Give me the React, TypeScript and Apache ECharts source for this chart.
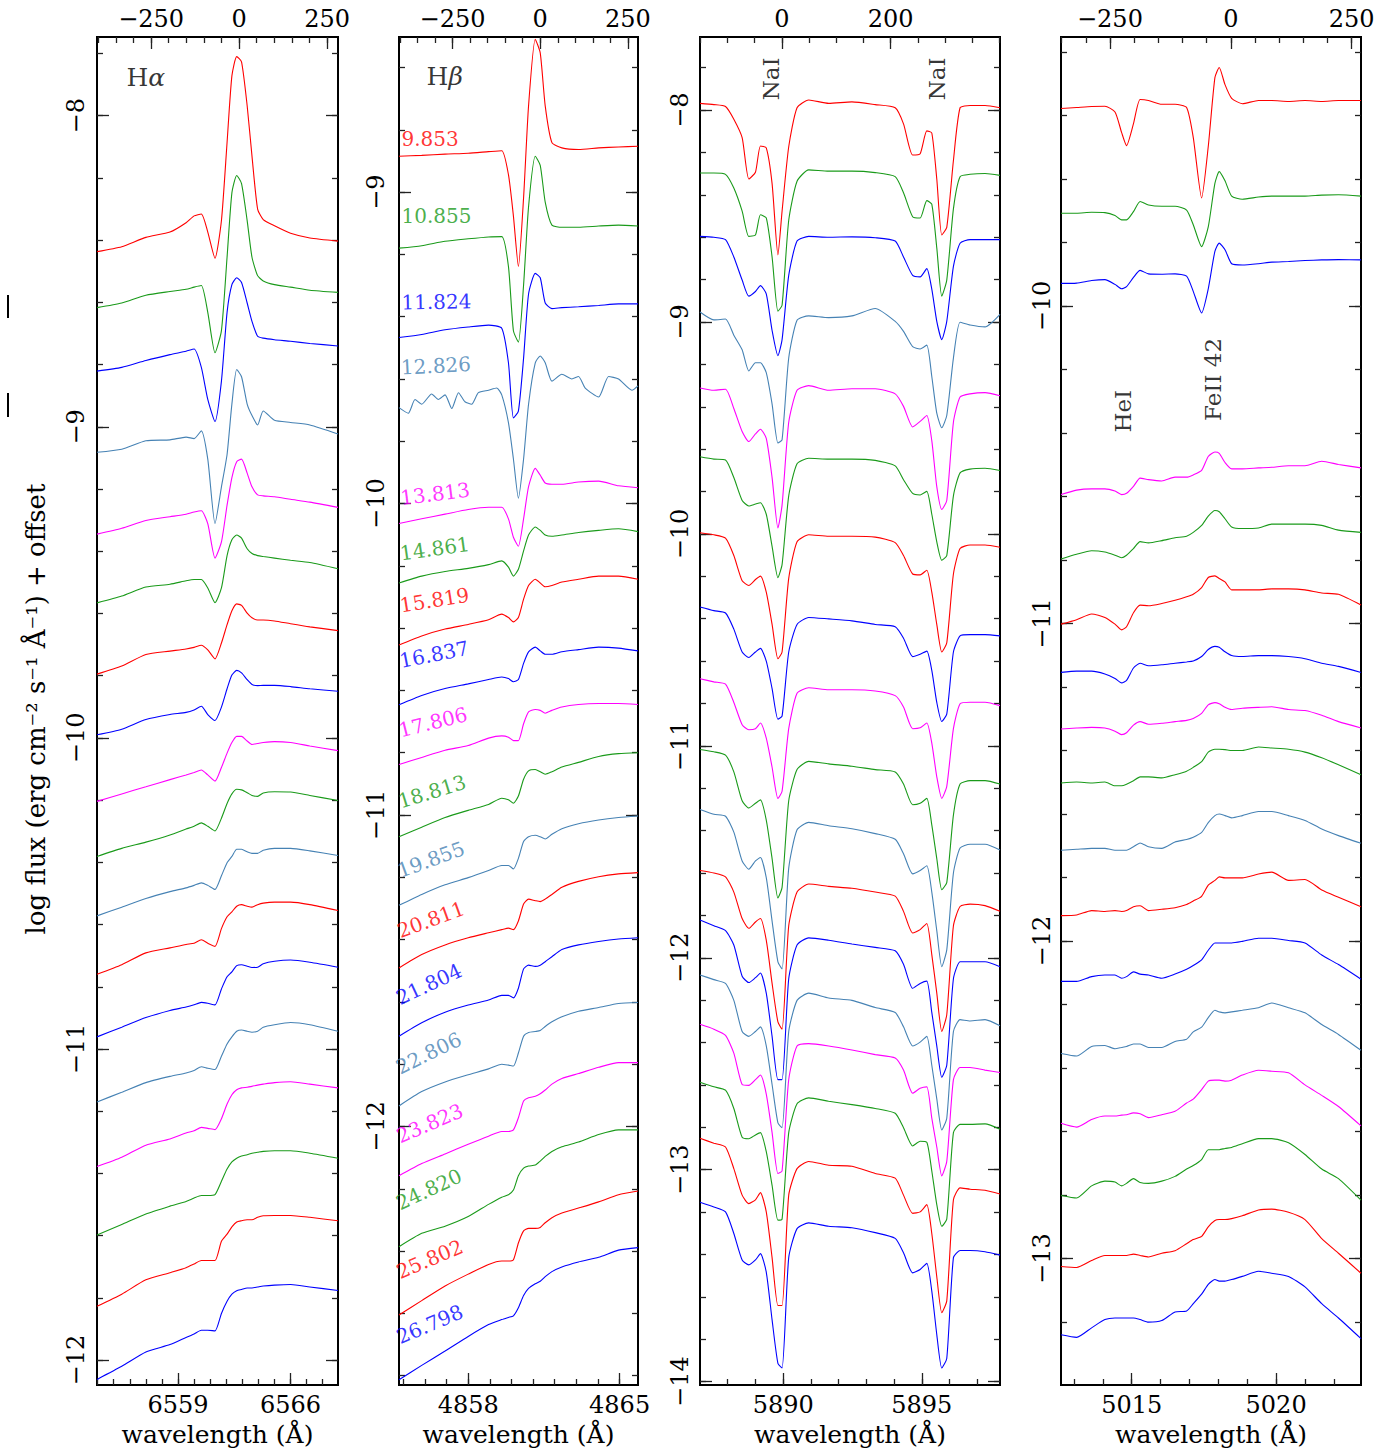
import React, { useEffect, useRef } from "react";
import * as echarts from "echarts";

// ---------- colours / epochs ----------
const COLOR = { red: "#ff0000", green: "#1a9a1a", blue: "#0000ff", steel: "#4682b4", magenta: "#ff00ff" };
const EPOCH_COLORS = ["red", "green", "blue", "steel", "magenta", "green", "red", "blue", "magenta", "green", "steel", "red", "blue", "steel", "magenta", "green", "red", "blue"];
const FE_COLORS = ["red", "green", "blue", "magenta", "green", "red", "blue", "magenta", "green", "steel", "red", "blue", "steel", "magenta", "green", "red", "blue"];
const EPOCHS = ["9.853", "10.855", "11.824", "12.826", "13.813", "14.861", "15.819", "16.837", "17.806", "18.813", "19.855", "20.811", "21.804", "22.806", "23.823", "24.820", "25.802", "26.798"];
const EPOCH_LABEL_Y = [-8.863, -9.112, -9.388, -9.597, -10.016, -10.194, -10.361, -10.539, -10.762, -10.99, -11.213, -11.406, -11.621, -11.844, -12.065, -12.28, -12.501, -12.71];
const EPOCH_LABEL_ANGLE = [0, 0, 1, 3, 7, 8, 9, 11, 14, 17, 20, 20, 25, 26, 23, 25, 23, 23];

// ---------- H alpha ----------
const HA_WAVE = [6553.96, 6555.5, 6557.0, 6558.5, 6559.5, 6560.0, 6560.45, 6560.85, 6561.3, 6561.7, 6562.05, 6562.35, 6562.65, 6562.95, 6563.3, 6563.6, 6563.95, 6564.3, 6565.0, 6566.0, 6567.2, 6568.95];
const HA_FLUX = [
  [-8.437, -8.421, -8.391, -8.374, -8.344, -8.322, -8.316, -8.374, -8.458, -8.337, -8.086, -7.872, -7.81, -7.827, -7.968, -8.13, -8.3, -8.334, -8.354, -8.378, -8.393, -8.403],
  [-8.617, -8.602, -8.577, -8.565, -8.558, -8.551, -8.546, -8.632, -8.762, -8.691, -8.455, -8.248, -8.192, -8.218, -8.337, -8.455, -8.514, -8.531, -8.543, -8.551, -8.561, -8.568],
  [-8.821, -8.809, -8.787, -8.768, -8.757, -8.75, -8.809, -8.912, -8.983, -8.853, -8.632, -8.543, -8.521, -8.536, -8.602, -8.661, -8.709, -8.715, -8.72, -8.725, -8.732, -8.74],
  [-9.082, -9.072, -9.045, -9.042, -9.033, -9.038, -9.013, -9.104, -9.311, -9.193, -9.089, -8.927, -8.816, -8.839, -8.927, -8.964, -8.994, -8.949, -8.979, -8.986, -8.994, -9.023],
  [-9.345, -9.326, -9.301, -9.289, -9.281, -9.274, -9.27, -9.311, -9.422, -9.37, -9.252, -9.163, -9.112, -9.104, -9.149, -9.193, -9.219, -9.222, -9.225, -9.233, -9.242, -9.259],
  [-9.566, -9.544, -9.515, -9.506, -9.495, -9.491, -9.491, -9.518, -9.565, -9.518, -9.414, -9.363, -9.348, -9.358, -9.392, -9.407, -9.414, -9.417, -9.422, -9.429, -9.436, -9.456],
  [-9.795, -9.769, -9.732, -9.721, -9.714, -9.709, -9.702, -9.717, -9.746, -9.695, -9.636, -9.591, -9.569, -9.574, -9.599, -9.614, -9.621, -9.621, -9.624, -9.633, -9.643, -9.655],
  [-9.99, -9.972, -9.941, -9.925, -9.918, -9.91, -9.898, -9.925, -9.944, -9.901, -9.842, -9.798, -9.783, -9.791, -9.813, -9.828, -9.832, -9.831, -9.831, -9.835, -9.842, -9.85],
  [-10.204, -10.18, -10.157, -10.134, -10.119, -10.111, -10.103, -10.119, -10.139, -10.095, -10.049, -10.015, -9.995, -9.995, -10.01, -10.021, -10.018, -10.015, -10.012, -10.015, -10.026, -10.041],
  [-10.381, -10.355, -10.335, -10.312, -10.293, -10.284, -10.273, -10.284, -10.299, -10.258, -10.211, -10.18, -10.165, -10.167, -10.176, -10.185, -10.188, -10.177, -10.173, -10.174, -10.185, -10.201],
  [-10.572, -10.544, -10.516, -10.494, -10.482, -10.474, -10.466, -10.474, -10.487, -10.443, -10.401, -10.381, -10.358, -10.358, -10.366, -10.371, -10.371, -10.361, -10.355, -10.355, -10.363, -10.378],
  [-10.76, -10.729, -10.691, -10.675, -10.664, -10.66, -10.649, -10.66, -10.67, -10.613, -10.575, -10.559, -10.541, -10.536, -10.541, -10.544, -10.536, -10.531, -10.528, -10.528, -10.536, -10.555],
  [-10.961, -10.93, -10.899, -10.876, -10.865, -10.858, -10.85, -10.853, -10.858, -10.807, -10.768, -10.752, -10.732, -10.729, -10.734, -10.738, -10.737, -10.726, -10.718, -10.714, -10.721, -10.737],
  [-11.17, -11.139, -11.108, -11.088, -11.077, -11.069, -11.057, -11.062, -11.066, -11.023, -10.984, -10.961, -10.943, -10.939, -10.943, -10.946, -10.943, -10.93, -10.922, -10.915, -10.922, -10.943],
  [-11.378, -11.348, -11.309, -11.289, -11.27, -11.263, -11.252, -11.255, -11.259, -11.224, -11.177, -11.147, -11.131, -11.125, -11.123, -11.12, -11.116, -11.113, -11.108, -11.105, -11.113, -11.125],
  [-11.598, -11.564, -11.53, -11.505, -11.49, -11.479, -11.471, -11.471, -11.468, -11.425, -11.386, -11.363, -11.351, -11.344, -11.34, -11.335, -11.332, -11.329, -11.327, -11.327, -11.335, -11.351],
  [-11.827, -11.788, -11.742, -11.719, -11.703, -11.691, -11.68, -11.68, -11.68, -11.618, -11.595, -11.572, -11.556, -11.552, -11.549, -11.549, -11.541, -11.536, -11.535, -11.535, -11.541, -11.552],
  [-12.062, -12.02, -11.974, -11.95, -11.927, -11.916, -11.904, -11.904, -11.906, -11.85, -11.811, -11.788, -11.777, -11.773, -11.768, -11.768, -11.765, -11.762, -11.759, -11.757, -11.765, -11.776],
];

// ---------- H beta ----------
const HB_WAVE = [4854.8, 4855.85, 4856.93, 4858.0, 4858.94, 4859.55, 4859.86, 4860.09, 4860.32, 4860.56, 4860.79, 4861.1, 4861.33, 4861.56, 4861.87, 4862.33, 4863.1, 4864.03, 4864.95, 4865.85];
const HB_WAVE_NOISY = [4854.8, 4855.23, 4855.54, 4855.85, 4856.31, 4856.62, 4856.93, 4857.24, 4857.55, 4857.85, 4858.16, 4858.47, 4858.94, 4859.32, 4859.55, 4859.86, 4860.09, 4860.32, 4860.56, 4860.79, 4861.1, 4861.33, 4861.56, 4861.87, 4862.33, 4862.79, 4863.1, 4863.41, 4864.03, 4864.49, 4864.95, 4865.57, 4865.85];
const HB_FLUX = [
  [-8.885, -8.882, -8.878, -8.875, -8.87, -8.867, -8.944, -9.077, -9.239, -9.018, -8.723, -8.509, -8.553, -8.723, -8.841, -8.858, -8.863, -8.858, -8.855, -8.853],
  [-9.18, -9.172, -9.158, -9.15, -9.144, -9.143, -9.239, -9.445, -9.482, -9.298, -9.047, -8.885, -8.914, -9.032, -9.106, -9.113, -9.113, -9.109, -9.106, -9.109],
  [-9.467, -9.457, -9.442, -9.433, -9.427, -9.437, -9.548, -9.725, -9.703, -9.533, -9.327, -9.261, -9.275, -9.356, -9.374, -9.371, -9.368, -9.364, -9.359, -9.359],
  [-9.692, -9.71, -9.666, -9.681, -9.648, -9.666, -9.651, -9.695, -9.644, -9.673, -9.681, -9.644, -9.636, -9.629, -9.651, -9.74, -9.857, -9.983, -9.857, -9.681, -9.548, -9.526, -9.548, -9.607, -9.585, -9.6, -9.592, -9.629, -9.658, -9.592, -9.6, -9.636, -9.622],
  [-10.064, -10.049, -10.034, -10.019, -10.012, -10.012, -10.049, -10.108, -10.137, -10.049, -9.946, -9.887, -9.909, -9.934, -9.938, -9.938, -9.931, -9.928, -9.943, -9.949],
  [-10.255, -10.233, -10.218, -10.208, -10.196, -10.184, -10.204, -10.233, -10.211, -10.152, -10.101, -10.075, -10.086, -10.101, -10.105, -10.101, -10.093, -10.086, -10.081, -10.09],
  [-10.454, -10.425, -10.403, -10.388, -10.373, -10.355, -10.366, -10.38, -10.366, -10.307, -10.263, -10.243, -10.255, -10.267, -10.263, -10.252, -10.243, -10.233, -10.233, -10.243],
  [-10.646, -10.616, -10.594, -10.579, -10.565, -10.557, -10.562, -10.572, -10.565, -10.513, -10.476, -10.461, -10.473, -10.484, -10.484, -10.476, -10.469, -10.461, -10.464, -10.473],
  [-10.838, -10.815, -10.792, -10.777, -10.753, -10.746, -10.75, -10.761, -10.761, -10.707, -10.669, -10.661, -10.664, -10.673, -10.664, -10.653, -10.645, -10.642, -10.642, -10.645],
  [-11.07, -11.039, -11.008, -10.985, -10.966, -10.946, -10.951, -10.962, -10.939, -10.885, -10.858, -10.854, -10.861, -10.869, -10.861, -10.846, -10.831, -10.812, -10.803, -10.8],
  [-11.29, -11.255, -11.224, -11.201, -11.178, -11.162, -11.162, -11.173, -11.139, -11.085, -11.07, -11.065, -11.07, -11.077, -11.062, -11.044, -11.028, -11.016, -11.008, -11.003],
  [-11.491, -11.448, -11.417, -11.394, -11.378, -11.368, -11.363, -11.368, -11.34, -11.286, -11.27, -11.275, -11.278, -11.27, -11.255, -11.232, -11.213, -11.198, -11.189, -11.185],
  [-11.71, -11.667, -11.633, -11.61, -11.594, -11.579, -11.579, -11.587, -11.556, -11.494, -11.482, -11.486, -11.482, -11.471, -11.455, -11.432, -11.417, -11.406, -11.398, -11.394],
  [-11.934, -11.888, -11.857, -11.834, -11.815, -11.8, -11.803, -11.806, -11.764, -11.71, -11.698, -11.695, -11.692, -11.679, -11.664, -11.648, -11.63, -11.618, -11.605, -11.602],
  [-12.158, -12.119, -12.088, -12.057, -12.031, -12.016, -12.016, -12.011, -11.972, -11.918, -11.908, -11.903, -11.895, -11.883, -11.864, -11.846, -11.83, -11.81, -11.795, -11.795],
  [-12.386, -12.343, -12.32, -12.289, -12.25, -12.227, -12.219, -12.204, -12.158, -12.134, -12.127, -12.124, -12.111, -12.096, -12.08, -12.065, -12.05, -12.026, -12.011, -12.011],
  [-12.605, -12.559, -12.512, -12.474, -12.443, -12.432, -12.432, -12.428, -12.374, -12.335, -12.327, -12.327, -12.324, -12.309, -12.293, -12.278, -12.262, -12.242, -12.219, -12.207],
  [-12.813, -12.767, -12.721, -12.674, -12.636, -12.62, -12.613, -12.608, -12.582, -12.543, -12.52, -12.505, -12.497, -12.482, -12.466, -12.451, -12.435, -12.42, -12.397, -12.389],
];
const HB_WAVES = HB_FLUX.map((_, i) => (i === 3 ? HB_WAVE_NOISY : HB_WAVE));

// ---------- Na I D ----------
const NA_WAVE = [5887.0, 5887.5, 5887.92, 5888.22, 5888.52, 5888.76, 5889.0, 5889.18, 5889.39, 5889.6, 5889.81, 5889.96, 5890.2, 5890.5, 5890.92, 5891.64, 5892.48, 5893.32, 5894.04, 5894.34, 5894.67, 5894.94, 5895.18, 5895.36, 5895.54, 5895.72, 5895.9, 5896.14, 5896.38, 5896.74, 5897.28, 5897.82];
const NA_FLUX = [
  [-7.968, -7.974, -7.983, -8.043, -8.13, -8.325, -8.293, -8.169, -8.178, -8.347, -8.683, -8.477, -8.173, -7.989, -7.952, -7.968, -7.961, -7.974, -7.989, -8.065, -8.212, -8.206, -8.098, -8.108, -8.325, -8.589, -8.553, -8.238, -7.989, -7.978, -7.978, -7.989],
  [-8.297, -8.297, -8.303, -8.368, -8.477, -8.596, -8.589, -8.494, -8.509, -8.693, -8.949, -8.921, -8.52, -8.336, -8.282, -8.288, -8.288, -8.295, -8.314, -8.39, -8.503, -8.509, -8.427, -8.444, -8.65, -8.878, -8.802, -8.466, -8.314, -8.303, -8.299, -8.308],
  [-8.596, -8.6, -8.611, -8.693, -8.802, -8.878, -8.856, -8.828, -8.867, -9.04, -9.159, -9.083, -8.78, -8.618, -8.596, -8.6, -8.598, -8.602, -8.618, -8.693, -8.78, -8.787, -8.748, -8.845, -8.997, -9.083, -8.997, -8.737, -8.628, -8.611, -8.611, -8.611],
  [-8.953, -8.99, -8.986, -9.062, -9.131, -9.231, -9.192, -9.192, -9.239, -9.387, -9.571, -9.556, -9.17, -8.992, -8.971, -8.979, -8.971, -8.936, -8.997, -9.044, -9.116, -9.127, -9.109, -9.257, -9.43, -9.499, -9.441, -9.17, -9.001, -9.014, -9.023, -8.964],
  [-9.311, -9.322, -9.317, -9.408, -9.517, -9.564, -9.528, -9.506, -9.549, -9.734, -9.972, -9.864, -9.473, -9.322, -9.3, -9.322, -9.315, -9.315, -9.339, -9.398, -9.495, -9.469, -9.441, -9.56, -9.777, -9.885, -9.842, -9.473, -9.354, -9.339, -9.333, -9.348],
  [-9.636, -9.647, -9.651, -9.734, -9.842, -9.868, -9.859, -9.853, -9.907, -10.059, -10.206, -10.145, -9.82, -9.669, -9.643, -9.647, -9.647, -9.653, -9.679, -9.744, -9.809, -9.816, -9.799, -9.907, -10.037, -10.124, -10.102, -9.82, -9.712, -9.694, -9.69, -9.701],
  [-9.994, -10.004, -10.02, -10.102, -10.221, -10.243, -10.215, -10.199, -10.275, -10.427, -10.589, -10.557, -10.21, -10.037, -10.004, -10.011, -10.011, -10.015, -10.041, -10.102, -10.189, -10.193, -10.171, -10.275, -10.427, -10.557, -10.514, -10.189, -10.069, -10.052, -10.052, -10.063],
  [-10.345, -10.362, -10.373, -10.449, -10.557, -10.583, -10.557, -10.54, -10.6, -10.73, -10.874, -10.86, -10.557, -10.427, -10.394, -10.401, -10.41, -10.427, -10.438, -10.492, -10.579, -10.568, -10.553, -10.644, -10.795, -10.885, -10.85, -10.557, -10.481, -10.475, -10.475, -10.481],
  [-10.683, -10.698, -10.709, -10.795, -10.9, -10.924, -10.919, -10.892, -10.964, -11.101, -11.248, -11.214, -10.919, -10.752, -10.726, -10.735, -10.735, -10.741, -10.763, -10.817, -10.919, -10.915, -10.892, -10.987, -11.146, -11.248, -11.191, -10.919, -10.801, -10.794, -10.794, -10.81],
  [-11.017, -11.028, -11.044, -11.123, -11.259, -11.293, -11.271, -11.255, -11.35, -11.532, -11.718, -11.668, -11.259, -11.112, -11.073, -11.085, -11.096, -11.112, -11.123, -11.18, -11.278, -11.271, -11.248, -11.373, -11.532, -11.679, -11.645, -11.327, -11.18, -11.164, -11.164, -11.18],
  [-11.3, -11.323, -11.332, -11.407, -11.543, -11.582, -11.543, -11.527, -11.622, -11.827, -12.019, -12.053, -11.577, -11.396, -11.361, -11.377, -11.391, -11.414, -11.441, -11.509, -11.604, -11.588, -11.566, -11.69, -11.872, -12.042, -11.963, -11.6, -11.482, -11.464, -11.464, -11.491],
  [-11.588, -11.6, -11.618, -11.69, -11.815, -11.861, -11.831, -11.815, -11.917, -12.121, -12.303, -12.337, -11.849, -11.69, -11.652, -11.663, -11.672, -11.69, -11.709, -11.781, -11.883, -11.867, -11.838, -11.985, -12.167, -12.348, -12.269, -11.849, -11.758, -11.747, -11.754, -11.781],
  [-11.822, -11.849, -11.872, -11.94, -12.087, -12.117, -12.094, -12.072, -12.167, -12.371, -12.575, -12.575, -12.099, -11.94, -11.906, -11.917, -11.935, -11.951, -11.967, -12.031, -12.144, -12.121, -12.11, -12.258, -12.416, -12.564, -12.507, -12.099, -12.019, -12.019, -12.019, -12.042],
  [-12.081, -12.103, -12.121, -12.201, -12.348, -12.371, -12.348, -12.326, -12.416, -12.598, -12.779, -12.802, -12.348, -12.201, -12.167, -12.19, -12.201, -12.235, -12.258, -12.326, -12.416, -12.398, -12.371, -12.507, -12.666, -12.813, -12.757, -12.348, -12.292, -12.298, -12.292, -12.321],
  [-12.314, -12.337, -12.366, -12.45, -12.598, -12.602, -12.575, -12.553, -12.643, -12.825, -13.018, -13.006, -12.575, -12.416, -12.405, -12.416, -12.435, -12.457, -12.473, -12.53, -12.639, -12.616, -12.609, -12.757, -12.893, -13.029, -12.961, -12.575, -12.518, -12.518, -12.53, -12.541],
  [-12.587, -12.609, -12.625, -12.711, -12.847, -12.854, -12.836, -12.825, -12.915, -13.074, -13.238, -13.233, -12.825, -12.689, -12.661, -12.677, -12.693, -12.711, -12.734, -12.802, -12.888, -12.866, -12.87, -13.006, -13.165, -13.267, -13.233, -12.825, -12.786, -12.786, -12.784, -12.809],
  [-12.852, -12.875, -12.893, -12.995, -13.12, -13.16, -13.142, -13.108, -13.199, -13.415, -13.641, -13.641, -13.12, -12.995, -12.961, -12.979, -12.984, -13.018, -13.04, -13.12, -13.206, -13.199, -13.165, -13.301, -13.505, -13.675, -13.619, -13.142, -13.086, -13.092, -13.097, -13.115],
  [-13.154, -13.176, -13.199, -13.301, -13.426, -13.449, -13.426, -13.396, -13.483, -13.709, -13.914, -13.936, -13.415, -13.278, -13.251, -13.267, -13.274, -13.297, -13.324, -13.392, -13.487, -13.471, -13.442, -13.573, -13.778, -13.936, -13.891, -13.415, -13.381, -13.381, -13.387, -13.403],
];

// ---------- He I / Fe II 42 ----------
const FE_WAVE = [5012.55, 5013.09, 5013.61, 5014.07, 5014.42, 5014.65, 5014.82, 5015.06, 5015.29, 5015.58, 5016.04, 5016.5, 5016.9, 5017.13, 5017.42, 5017.65, 5017.88, 5018.03, 5018.23, 5018.46, 5018.83, 5019.39, 5019.85, 5020.43, 5021.0, 5021.58, 5022.16, 5022.94];
const FE_FLUX = [
  [-9.378, -9.375, -9.372, -9.371, -9.389, -9.454, -9.495, -9.426, -9.35, -9.353, -9.365, -9.365, -9.375, -9.469, -9.66, -9.498, -9.281, -9.249, -9.303, -9.346, -9.363, -9.353, -9.353, -9.356, -9.353, -9.356, -9.353, -9.353],
  [-9.708, -9.708, -9.705, -9.706, -9.715, -9.729, -9.729, -9.703, -9.671, -9.682, -9.686, -9.686, -9.698, -9.744, -9.813, -9.751, -9.614, -9.577, -9.606, -9.654, -9.664, -9.657, -9.654, -9.654, -9.654, -9.651, -9.65, -9.654],
  [-9.929, -9.928, -9.92, -9.917, -9.932, -9.946, -9.939, -9.91, -9.888, -9.899, -9.9, -9.899, -9.906, -9.954, -10.022, -9.946, -9.828, -9.802, -9.823, -9.867, -9.871, -9.867, -9.862, -9.86, -9.857, -9.855, -9.854, -9.855],
  [-10.594, -10.58, -10.576, -10.576, -10.583, -10.594, -10.59, -10.568, -10.542, -10.547, -10.551, -10.539, -10.539, -10.532, -10.518, -10.474, -10.46, -10.464, -10.493, -10.513, -10.513, -10.51, -10.508, -10.503, -10.503, -10.489, -10.499, -10.51],
  [-10.797, -10.782, -10.771, -10.775, -10.785, -10.793, -10.785, -10.764, -10.742, -10.746, -10.739, -10.73, -10.725, -10.713, -10.691, -10.662, -10.644, -10.648, -10.67, -10.696, -10.701, -10.699, -10.687, -10.687, -10.687, -10.691, -10.706, -10.713],
  [-11.002, -10.988, -10.97, -10.981, -11.002, -11.02, -11.01, -10.966, -10.942, -10.944, -10.937, -10.927, -10.916, -10.908, -10.887, -10.855, -10.85, -10.858, -10.869, -10.894, -10.894, -10.894, -10.891, -10.891, -10.894, -10.904, -10.908, -10.942],
  [-11.154, -11.15, -11.15, -11.159, -11.173, -11.187, -11.179, -11.14, -11.125, -11.133, -11.13, -11.125, -11.121, -11.118, -11.104, -11.082, -11.072, -11.075, -11.089, -11.101, -11.104, -11.101, -11.101, -11.104, -11.111, -11.125, -11.135, -11.154],
  [-11.332, -11.329, -11.327, -11.329, -11.339, -11.35, -11.344, -11.32, -11.309, -11.317, -11.314, -11.309, -11.305, -11.299, -11.283, -11.256, -11.249, -11.253, -11.264, -11.271, -11.267, -11.264, -11.262, -11.271, -11.274, -11.289, -11.309, -11.329],
  [-11.502, -11.499, -11.502, -11.499, -11.511, -11.511, -11.506, -11.495, -11.483, -11.483, -11.486, -11.476, -11.465, -11.453, -11.435, -11.405, -11.396, -11.396, -11.397, -11.4, -11.4, -11.389, -11.392, -11.396, -11.405, -11.423, -11.445, -11.476],
  [-11.714, -11.711, -11.708, -11.708, -11.714, -11.714, -11.714, -11.703, -11.691, -11.703, -11.708, -11.688, -11.68, -11.673, -11.658, -11.627, -11.605, -11.6, -11.605, -11.612, -11.605, -11.592, -11.592, -11.605, -11.62, -11.647, -11.668, -11.692],
  [-11.92, -11.918, -11.904, -11.907, -11.904, -11.907, -11.904, -11.892, -11.889, -11.904, -11.9, -11.895, -11.885, -11.874, -11.859, -11.824, -11.809, -11.798, -11.801, -11.801, -11.801, -11.789, -11.783, -11.809, -11.806, -11.839, -11.862, -11.892],
  [-12.127, -12.127, -12.112, -12.107, -12.107, -12.117, -12.112, -12.097, -12.104, -12.107, -12.117, -12.104, -12.089, -12.077, -12.059, -12.029, -12.006, -12.006, -12.006, -12.006, -12.001, -11.991, -11.991, -11.998, -12.006, -12.044, -12.074, -12.12],
  [-12.354, -12.362, -12.332, -12.329, -12.339, -12.335, -12.332, -12.324, -12.324, -12.335, -12.335, -12.316, -12.309, -12.286, -12.271, -12.241, -12.218, -12.223, -12.226, -12.223, -12.218, -12.21, -12.195, -12.21, -12.226, -12.263, -12.294, -12.344],
  [-12.574, -12.586, -12.562, -12.551, -12.551, -12.548, -12.547, -12.541, -12.544, -12.556, -12.547, -12.536, -12.51, -12.498, -12.468, -12.441, -12.438, -12.438, -12.441, -12.438, -12.422, -12.407, -12.41, -12.415, -12.453, -12.486, -12.521, -12.582],
  [-12.801, -12.809, -12.771, -12.756, -12.759, -12.771, -12.763, -12.748, -12.76, -12.763, -12.756, -12.741, -12.718, -12.707, -12.688, -12.657, -12.657, -12.657, -12.653, -12.65, -12.638, -12.622, -12.622, -12.635, -12.672, -12.718, -12.748, -12.816],
  [-13.025, -13.028, -13.006, -12.99, -12.99, -12.99, -12.99, -12.986, -12.99, -12.995, -12.983, -12.975, -12.953, -12.94, -12.93, -12.9, -12.88, -12.877, -12.877, -12.874, -12.865, -12.847, -12.844, -12.854, -12.877, -12.937, -12.983, -13.046],
  [-13.24, -13.248, -13.218, -13.192, -13.187, -13.187, -13.187, -13.187, -13.192, -13.2, -13.195, -13.168, -13.165, -13.142, -13.112, -13.081, -13.066, -13.071, -13.071, -13.066, -13.056, -13.04, -13.046, -13.056, -13.089, -13.142, -13.187, -13.252],
];

// ---------- axis tick labels ----------
const HA_X_LABELS = [6559, 6566];
const HB_X_LABELS = [4858, 4865];
const NA_X_LABELS = [5890, 5895];
const FE_X_LABELS = [5015, 5020];
const HA_Y_LABELS = [-12, -11, -10, -9, -8];
const HB_Y_LABELS = [-12, -11, -10, -9];
const NA_Y_LABELS = [-14, -13, -12, -11, -10, -9, -8];
const FE_Y_LABELS = [-13, -12, -11, -10];
const V_LABELS_WIDE = [-250, 0, 250];
const V_LABELS_NA = [0, 200];

const C_KMS = 299792.458;
const FONT = '"DejaVu Serif", "Liberation Serif", serif';

function steps(a: number, b: number, s: number) {
  const out: number[] = [];
  for (let v = a; v <= b + 1e-9; v += s) out.push(Math.round(v * 1000) / 1000);
  return out;
}

const PANELS = [
  { left: 97, width: 241, wave: HA_FLUX.map(() => HA_WAVE), flux: HA_FLUX, colors: EPOCH_COLORS, xMin: 6553.96, xMax: 6568.95, rest: 6562.8, yMin: -12.08, yMax: -7.747,
    xLab: HA_X_LABELS, xMinor: steps(6554, 6568, 1), vLab: V_LABELS_WIDE, vMinor: steps(-400, 250, 50), yLab: HA_Y_LABELS, yMinor: steps(-12, -7.8, 0.2), yMargin: 9 },
  { left: 399, width: 239, wave: HB_WAVES, flux: HB_FLUX, colors: EPOCH_COLORS, xMin: 4854.8, xMax: 4865.85, rest: 4861.33, yMin: -12.83, yMax: -8.502,
    xLab: HB_X_LABELS, xMinor: steps(4855, 4865, 1), vLab: V_LABELS_WIDE, vMinor: steps(-400, 250, 50), yLab: HB_Y_LABELS, yMinor: steps(-12.8, -8.6, 0.2), yMargin: 11 },
  { left: 700, width: 300, wave: NA_FLUX.map(() => NA_WAVE), flux: NA_FLUX, colors: EPOCH_COLORS, xMin: 5887.0, xMax: 5897.82, rest: 5889.95, yMin: -14.016, yMax: -7.655,
    xLab: NA_X_LABELS, xMinor: steps(5888, 5897, 1), vLab: V_LABELS_NA, vMinor: steps(-150, 400, 50), yLab: NA_Y_LABELS, yMinor: steps(-14, -7.8, 0.2), yMargin: 8 },
  { left: 1061, width: 300, wave: FE_FLUX.map(() => FE_WAVE), flux: FE_FLUX, colors: FE_COLORS, xMin: 5012.55, xMax: 5022.94, rest: 5018.43, yMin: -13.398, yMax: -9.153,
    xLab: FE_X_LABELS, xMinor: steps(5013, 5022, 1), vLab: V_LABELS_WIDE, vMinor: steps(-350, 250, 50), yLab: FE_Y_LABELS, yMinor: steps(-13.2, -9.2, 0.2), yMargin: 7 },
];

const fmt = (v: number) => (v < 0 ? "\u2212" + Math.abs(v) : String(v));
const plain = (v: number) => String(v);
const TICK_STYLE = { color: "#222", width: 1.3 };
const LABEL_STYLE = { fontFamily: FONT, fontSize: 24, color: "#000" };

function buildOption() {
  const grid: any[] = [];
  const xAxis: any[] = [];
  const yAxis: any[] = [];
  const series: any[] = [];

  PANELS.forEach((p, gi) => {
    grid.push({ left: p.left, top: 37, width: p.width, height: 1348, show: true, borderColor: "#000", borderWidth: 2, backgroundColor: "transparent" });
    const vMin = ((p.xMin - p.rest) / p.rest) * C_KMS;
    const vMax = ((p.xMax - p.rest) / p.rest) * C_KMS;
    const noLine = { show: false, onZero: false };
    const base = (min: number, max: number, pos: string) => ({ gridIndex: gi, type: "value", min, max, position: pos, axisLine: noLine, splitLine: { show: false } });
    xAxis.push({
      ...base(p.xMin, p.xMax, "bottom"),
      axisTick: { show: true, inside: true, length: 12, lineStyle: TICK_STYLE, customValues: p.xLab },
      axisLabel: { show: true, customValues: p.xLab, margin: 8, formatter: plain, ...LABEL_STYLE },
      name: "wavelength (\u00c5)", nameLocation: "middle", nameGap: 36,
      nameTextStyle: { fontFamily: FONT, fontSize: 25, color: "#000" },
    });
    xAxis.push({ ...base(p.xMin, p.xMax, "bottom"), axisTick: { show: true, inside: true, length: 6, lineStyle: TICK_STYLE, customValues: p.xMinor }, axisLabel: { show: false } });
    xAxis.push({
      ...base(vMin, vMax, "top"),
      axisTick: { show: true, inside: true, length: 12, lineStyle: TICK_STYLE, customValues: p.vLab },
      axisLabel: { show: true, customValues: p.vLab, margin: 6, formatter: fmt, ...LABEL_STYLE },
    });
    xAxis.push({ ...base(vMin, vMax, "top"), axisTick: { show: true, inside: true, length: 6, lineStyle: TICK_STYLE, customValues: p.vMinor }, axisLabel: { show: false } });
    yAxis.push({
      ...base(p.yMin, p.yMax, "left"),
      axisTick: { show: true, inside: true, length: 12, lineStyle: TICK_STYLE, customValues: p.yLab },
      axisLabel: { show: true, customValues: p.yLab, rotate: 90, margin: p.yMargin, formatter: fmt, ...LABEL_STYLE },
    });
    yAxis.push({ ...base(p.yMin, p.yMax, "left"), axisTick: { show: true, inside: true, length: 6, lineStyle: TICK_STYLE, customValues: p.yMinor }, axisLabel: { show: false } });
    yAxis.push({ ...base(p.yMin, p.yMax, "right"), axisTick: { show: true, inside: true, length: 12, lineStyle: TICK_STYLE, customValues: p.yLab }, axisLabel: { show: false } });
    yAxis.push({ ...base(p.yMin, p.yMax, "right"), axisTick: { show: true, inside: true, length: 6, lineStyle: TICK_STYLE, customValues: p.yMinor }, axisLabel: { show: false } });

    p.flux.forEach((f, si) => {
      const w = p.wave[si];
      series.push({
        type: "line",
        xAxisIndex: gi * 4,
        yAxisIndex: gi * 4,
        data: f.map((v, k) => [w[k], v]),
        showSymbol: false,
        symbol: "none",
        smooth: 0.2,
        silent: true,
        clip: true,
        lineStyle: { width: 1.1, color: (COLOR as any)[p.colors[si]] },
        itemStyle: { color: (COLOR as any)[p.colors[si]] },
      });
    });
  });

  const textSeries = (gi: number, items: any[]) => ({
    type: "scatter",
    xAxisIndex: gi * 4,
    yAxisIndex: gi * 4,
    symbol: "circle",
    symbolSize: 1,
    silent: true,
    itemStyle: { color: "rgba(0,0,0,0)" },
    data: items,
  });

  series.push(
    textSeries(
      1,
      EPOCHS.map((e, i) => ({
        value: [4854.94, EPOCH_LABEL_Y[i]],
        label: {
          show: true, formatter: e, position: [0, 0], align: "left", verticalAlign: "bottom",
          rotate: EPOCH_LABEL_ANGLE[i], color: (COLOR as any)[EPOCH_COLORS[i]], fontFamily: FONT, fontSize: 20,
        },
      }))
    )
  );
  const ident = (x: number, y: number, text: string, rotate: number, extra: any = {}) => ({
    value: [x, y],
    label: { show: true, formatter: text, position: [0, 0], align: rotate ? "center" : "left", verticalAlign: "middle", rotate, color: "#000", fontFamily: FONT, fontSize: 23, ...extra },
  });
  const greek = { r: { fontFamily: FONT, fontSize: 25, color: "#000" }, i: { fontFamily: FONT, fontSize: 25, fontStyle: "italic", color: "#000" } };
  series.push(textSeries(0, [ident(6555.83, -7.879, "{r|H}{i|\u03b1}", 0, { rich: greek })]));
  series.push(textSeries(1, [ident(4856.1, -8.631, "{r|H}{i|\u03b2}", 0, { rich: greek })]));
  series.push(textSeries(2, [ident(5889.58, -7.855, "NaI", 90), ident(5895.56, -7.855, "NaI", 90)]));
  series.push(textSeries(3, [ident(5014.73, -10.333, "HeI", 90), ident(5017.83, -10.233, "FeII 42", 90)]));

  return {
    animation: false,
    backgroundColor: "#ffffff",
    grid,
    xAxis,
    yAxis,
    series,
    graphic: [
      {
        type: "text", x: 36, y: 709, rotation: Math.PI / 2,
        style: { text: "log flux (erg cm\u207b\u00b2 s\u207b\u00b9 \u00c5\u207b\u00b9) + offset", font: `26px ${FONT}`, textAlign: "center", textVerticalAlign: "middle", fill: "#000" },
      },
      { type: "line", shape: { x1: 8, y1: 295, x2: 8, y2: 318 }, style: { stroke: "#000", lineWidth: 2 } },
      { type: "line", shape: { x1: 8, y1: 393, x2: 8, y2: 417 }, style: { stroke: "#000", lineWidth: 2 } },
    ],
  };
}

export default function App() {
  const ref = useRef<HTMLDivElement>(null);
  useEffect(() => {
    if (!ref.current) return;
    const chart = echarts.init(ref.current, undefined, { renderer: "svg" });
    chart.setOption(buildOption() as any);
    return () => chart.dispose();
  }, []);
  return <div ref={ref} style={{ position: "absolute", left: 0, top: 0, width: 1396, height: 1454, background: "#fff" }} />;
}
